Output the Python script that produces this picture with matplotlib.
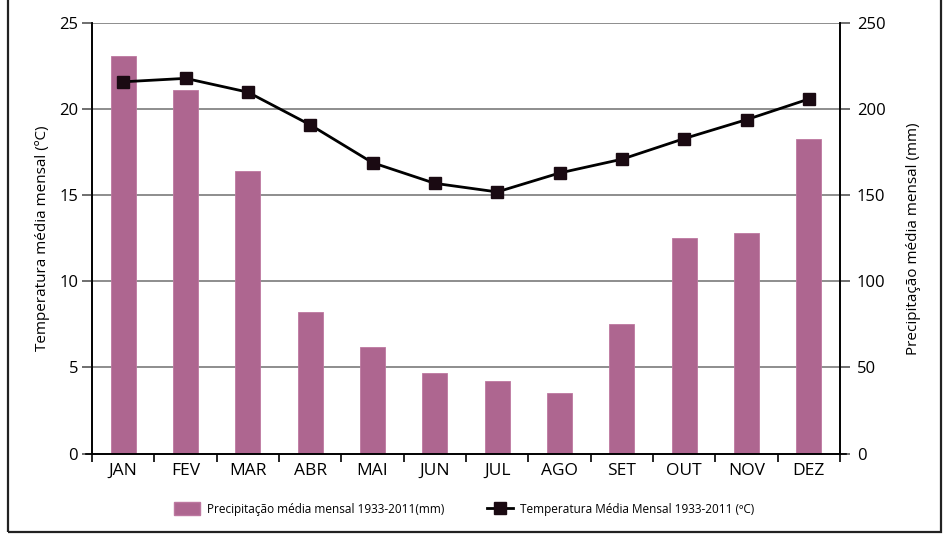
import matplotlib
matplotlib.use("Agg")
import matplotlib.pyplot as plt
import numpy as np
from matplotlib.patches import Rectangle
from matplotlib.lines import Line2D

months = ["JAN", "FEV", "MAR", "ABR", "MAI", "JUN", "JUL", "AGO", "SET", "OUT", "NOV", "DEZ"]
precip_mm = [231, 211, 164, 82, 62, 47, 42, 35, 75, 125, 128, 183]
temp_c = [21.6, 21.8, 21.0, 19.1, 16.9, 15.7, 15.2, 16.3, 17.1, 18.3, 19.4, 20.6]
left_ticks = [0, 5, 10, 15, 20, 25]
right_ticks = [0, 50, 100, 150, 200, 250]

plt.rcParams['font.family'] = ['Open Sans', 'DejaVu Sans']

fig = plt.figure(figsize=(9.5, 5.42), dpi=100)
ax = fig.add_axes([92/950, 1-453.5/542, (840-92)/950, (453.5-23.3)/542])
ax2 = ax.twinx()

x = np.arange(len(months))
bar_color = "#AE6690"
ax2.bar(x, precip_mm, width=0.4, color=bar_color, edgecolor="#BD78A0", linewidth=0.6, zorder=2)
ax2.set_ylim(0, 250)
ax2.set_yticks(right_ticks)

ax.plot(x, temp_c, color="black", linewidth=2.0, marker="s", markersize=9,
        markerfacecolor="#1a0a12", markeredgecolor="#1a0a12", zorder=5)
ax.set_ylim(0, 25)
ax.set_yticks(left_ticks)
ax.set_xlim(-0.5, 11.5)

# put line axes on top of bar axes
ax.set_zorder(ax2.get_zorder() + 1)
ax.patch.set_visible(False)

for y in left_ticks[1:]:
    ax2.axhline(y * 10, color="#7a7a7a", linewidth=1.2, zorder=1)

ax.set_xticks(x)
ax.set_xticklabels(months, fontsize=12.5)
ax.set_xticks(np.arange(-0.5, 12, 1), minor=True)
ax.tick_params(axis="x", which="major", length=0, pad=7)
ax.tick_params(axis="x", which="minor", length=6, width=1.2, color="black", direction="out")
ax.tick_params(axis="y", length=7, width=1.2, color="#555555", labelsize=12, pad=3)
ax2.tick_params(axis="y", length=7, width=1.2, color="#555555", labelsize=12, pad=5)
ax2.tick_params(axis="x", length=0)

for a in (ax, ax2):
    a.spines["top"].set_visible(False)
    a.spines["left"].set_linewidth(1.2)
    a.spines["right"].set_linewidth(1.2)
    a.spines["bottom"].set_linewidth(1.2)
ax.spines["bottom"].set_bounds(-0.6, 11.6)

ax.set_ylabel("Temperatura média mensal (ºC)", fontsize=11)
ax2.set_ylabel("Precipitação média mensal (mm)", fontsize=11)
ax.yaxis.set_label_coords((50 - 92) / 748, 0.5)
ax2.yaxis.set_label_coords((906 - 92) / 748, 0.5)

# legend
leg_handles = [Rectangle((0, 0), 1, 1, facecolor=bar_color, edgecolor="#BD78A0"),
               Line2D([0], [0], color="black", linewidth=2.0, marker="s", markersize=8,
                      markerfacecolor="#1a0a12", markeredgecolor="#1a0a12")]
leg_labels = ["Precipitação média mensal 1933-2011(mm)", "Temperatura Média Mensal 1933-2011 (ºC)"]
fig.legend(leg_handles, leg_labels, loc="center", bbox_to_anchor=(464/950, 1-509/542),
           ncol=2, frameon=False, fontsize=8.5, handlelength=2.2, handleheight=1.3,
           columnspacing=3.6, handletextpad=0.6)

# outer frame
fig.add_artist(Rectangle((8/950, 1-532/542), (941-8)/950, 532/542 + 0.02,
                         transform=fig.transFigure, fill=False, edgecolor="#222222",
                         linewidth=1.6))

fig.savefig("out.png", dpi=100)
